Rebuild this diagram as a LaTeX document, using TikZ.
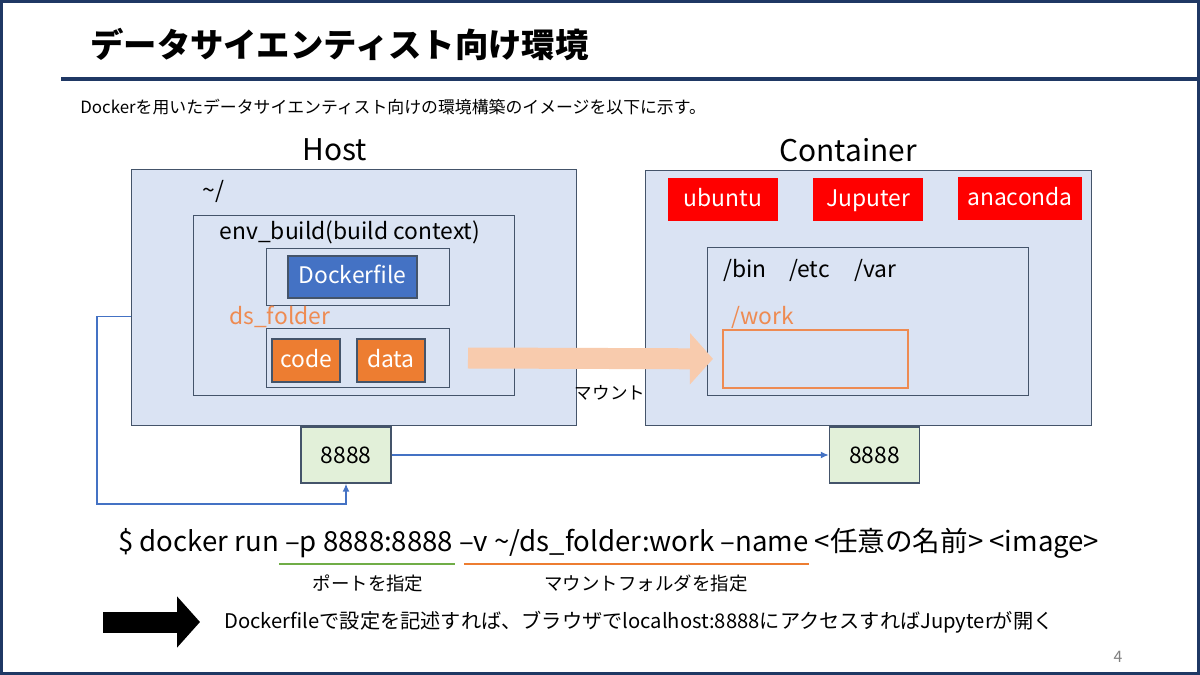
\documentclass[tikz,border=0pt]{standalone}
\usepackage{fontspec}
\setmainfont{Noto Sans CJK JP}
\usepackage{tikz}
\usetikzlibrary{arrows.meta, positioning}
\definecolor{navy}{HTML}{1F3864}
\definecolor{boxline}{HTML}{44546A}
\definecolor{boxfill}{HTML}{DAE3F3}
\definecolor{dfblue}{HTML}{4472C4}
\definecolor{fileorange}{HTML}{ED7D31}
\definecolor{lightorange}{HTML}{EE8B52}
\definecolor{mountpeach}{HTML}{F8CBAD}
\definecolor{portgreen}{HTML}{E2F0D9}
\definecolor{linegreen}{HTML}{70AD47}
\definecolor{pkgred}{HTML}{FF0000}
\newcommand{\fsz}[1]{\fontsize{#1}{#1}\selectfont}

\begin{document}
\begin{tikzpicture}[x=0.02cm, y=-0.02cm,
    area/.style={draw=boxline, fill=boxfill, line width=0.8pt, anchor=north west, inner sep=0pt},
    filebox/.style={draw=boxline, line width=0.8pt, text=white, font=\fsz{13pt}, inner sep=0pt, text height=1.7ex, text depth=0.3ex},
    pkg/.style={fill=pkgred, text=white, font=\fsz{13pt}, inner sep=0pt, minimum height=0.86cm, text height=1.7ex, text depth=0.3ex},
    port/.style={draw=boxline, fill=portgreen, line width=0.8pt, minimum width=1.8cm, minimum height=1.12cm, font=\fsz{13pt}, inner sep=0pt},
    lbl/.style={font=\fsz{13pt}, inner sep=0pt},
    link/.style={draw=dfblue, line width=0.8pt, -{Latex[length=1.6mm, width=1.4mm]}},
    bigarrow/.style={line width=0.42cm, -{Triangle[length=0.46cm, width=1.0cm]}}
    ]
    \useasboundingbox (0,0) rectangle (1200,675);
    \fill[white] (0,0) rectangle (1200,675);
    \draw[navy, line width=0.06cm] (1.5,1.5) rectangle (1198.5,673.5);

    % タイトル
    \node[anchor=west, inner sep=0pt, font=\fsz{19pt}\bfseries] (title) at (90,45) {データサイエンティスト向け環境};
    \draw[navy, line width=0.08cm] (61,79) -- (1200,79);
    \node[anchor=west, inner sep=0pt, font=\fsz{9.6pt}] (lead) at (80,107) {Dockerを用いたデータサイエンティスト向けの環境構築のイメージを以下に示す。};

    % Host
    \node[lbl, font=\fsz{17pt}] (hosttitle) at (335,150) {Host};
    \node[area, minimum width=8.9cm, minimum height=5.12cm] (host) at (131,169) {};
    \node[lbl, anchor=west] (home) at (202,191) {\textasciitilde/};
    \node[area, minimum width=6.42cm, minimum height=3.6cm] (env) at (193,215) {};
    \node[lbl] (envlabel) at (350,232) {env\_build(build context)};
    \node[area, minimum width=3.66cm, minimum height=1.14cm] (dfarea) at (266,248) {};
    \node[filebox, fill=dfblue, minimum width=2.58cm, minimum height=0.84cm] (dfile) at (352.5,277) {Dockerfile};
    \node[lbl, anchor=west, text=lightorange] (dslabel) at (229,317) {ds\_folder};
    \node[area, minimum width=3.66cm, minimum height=1.18cm] (ds) at (266,328) {};
    \node[filebox, fill=fileorange, minimum width=1.36cm, minimum height=0.86cm] (code) at (306,360.5) {code};
    \node[filebox, fill=fileorange, minimum width=1.36cm, minimum height=0.86cm] (data) at (391,360.5) {data};

    % Container
    \node[lbl, font=\fsz{17pt}] (ctitle) at (848,150) {Container};
    \node[area, minimum width=8.92cm, minimum height=5.1cm] (cont) at (645,170) {};
    \node[pkg, minimum width=2.2cm] (ubuntu) at (723,199.5) {ubuntu};
    \node[pkg, minimum width=2.2cm] (jupyter) at (868,199.5) {Juputer};
    \node[pkg, minimum width=2.48cm] (anaconda) at (1020,198.5) {anaconda};
    \node[area, minimum width=6.42cm, minimum height=2.96cm] (fs) at (707,247) {};
    \node[lbl, anchor=west] (bin) at (723,270) {/bin};
    \node[lbl, anchor=west] (etc) at (789,270) {/etc};
    \node[lbl, anchor=west] (var) at (854,270) {/var};
    \node[lbl, anchor=west, text=lightorange] (worklabel) at (731,317) {/work};
    \node[draw=lightorange, line width=1pt, anchor=north west, inner sep=0pt, minimum width=3.7cm, minimum height=1.16cm] (work) at (722,329) {};

    % マウント
    \coordinate (mnt) at (468,358);
    \draw[bigarrow, mountpeach] (mnt) -- ([xshift=-0.18cm]work.west);
    \node[lbl, font=\fsz{10pt}] (mntlabel) at (610,393) {マウント};

    % ポート
    \node[port] (hport) at (346,455) {8888};
    \node[port] (cport) at (874.5,455) {8888};
    \draw[link] (hport) -- (cport);
    \coordinate (loop) at (97,504);
    \draw[link] ([yshift=-0.38cm]host.west) -| (loop) -| (hport.south);

    % コマンド
    \node[anchor=west, inner sep=0pt, font=\fsz{15.7pt}] (cmd) at (118,543) {\$ docker run –p 8888:8888 –v \textasciitilde/ds\_folder:work –name <任意の名前> <image>};
    \draw[linegreen, line width=1.2pt] (279,564) -- (455,564);
    \draw[fileorange, line width=1.2pt] (464,564) -- (809,564);
    \node[lbl, font=\fsz{10.5pt}] (portnote) at (368,583) {ポートを指定};
    \node[lbl, font=\fsz{10.5pt}] (mntnote) at (646,583) {マウントフォルダを指定};

    % まとめ
    \node[anchor=west, inner sep=0pt, font=\fsz{11.5pt}] (note) at (224,622) {Dockerfileで設定を記述すれば、ブラウザでlocalhost:8888にアクセスすればJupyterが開く};
    \coordinate (barrow) at (103,622);
    \draw[bigarrow, black] (barrow) -- ([xshift=-0.48cm]note.west);
    \node[inner sep=0pt, text=gray, font=\fsz{9pt}] (page) at (1118,657) {4};
\end{tikzpicture}
\end{document}
